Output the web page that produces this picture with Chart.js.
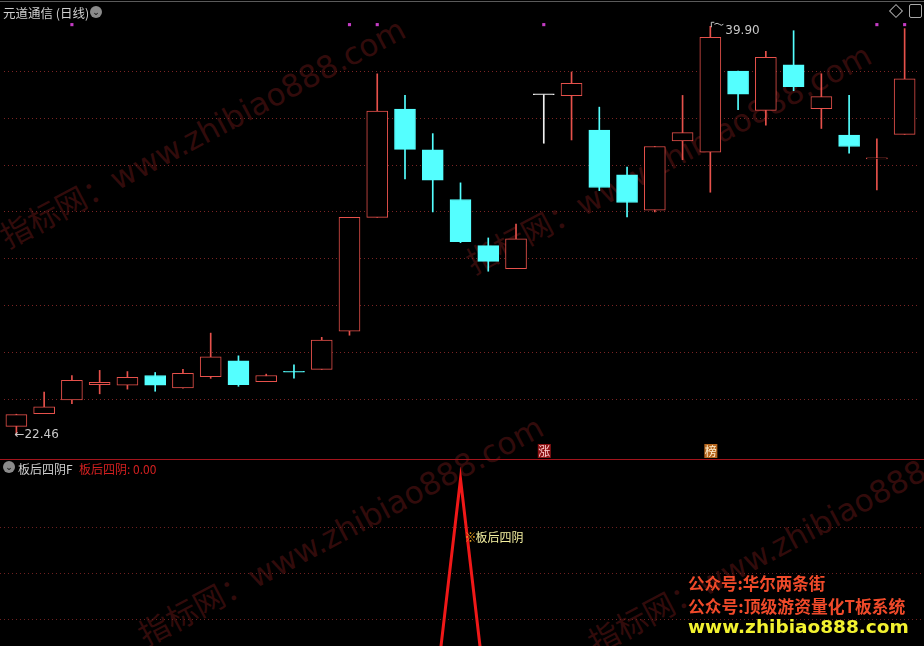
<!DOCTYPE html>
<html>
<head>
<meta charset="utf-8">
<script src="https://cdn.jsdelivr.net/npm/chart.js@4.4.0/dist/chart.umd.min.js"></script>
<style>
  body { margin: 0; background: #000; width: 924px; height: 646px; overflow: hidden; position: relative;
         font-family: "Noto Sans CJK SC", "DejaVu Sans", sans-serif; }
  .abs { position: absolute; white-space: nowrap; }
  #mainBox { position: absolute; left: 0; top: 0; width: 924px; height: 459px; }
  #subBox { position: absolute; left: 0; top: 460px; width: 924px; height: 186px; }
  .wm { position: absolute; white-space: nowrap; color: rgba(85, 20, 20, 0.6); font-size: 31px;
        transform-origin: left bottom; transform: rotate(-28deg); font-family: "DejaVu Sans", "Noto Sans CJK SC", sans-serif; }
  .icon { position: absolute; width: 12px; height: 12px; border-radius: 50%; background: #8a8a8a;
          color: #222; font-size: 9px; line-height: 12px; text-align: center; font-weight: bold; }
</style>
</head>
<body>
<div class="wm" style="left:12px; top:212px;">指标网：www.zhibiao888.com</div>
<div class="wm" style="left:478px; top:238px;">指标网：www.zhibiao888.com</div>
<div class="wm" style="left:150px; top:610px;">指标网：www.zhibiao888.com</div>
<div class="wm" style="left:600px; top:618px;">指标网：www.zhibiao888.com</div>

<div id="mainBox"><canvas id="main" width="924" height="459"></canvas></div>
<div id="subBox"><canvas id="sub" width="924" height="186"></canvas></div>

<div class="abs" style="left:0; top:1px; width:924px; height:1px; background:#5a5a5a;"></div>
<div class="abs" style="left:0; top:459px; width:924px; height:1px; background:#a3141c;"></div>

<div class="abs" style="left:3px; top:3px; font-size:12.5px; color:#cfcfcf;">元道通信 (日线)</div>
<div class="icon" style="left:90px; top:6px;">⌄</div>
<div class="abs" style="left:891px; top:6px; width:8px; height:8px; border:1px solid #aaa; transform:rotate(45deg);"></div>
<div class="abs" style="left:909px; top:4px; width:11px; height:12px; border:1px solid #aaa; border-radius:2px;"></div>

<div class="icon" style="left:3px; top:461px;">⌄</div>
<div class="abs" style="left:18px; top:460px; font-size:12px; color:#cfcfcf;">板后四阴F</div>
<div class="abs" style="left:79px; top:460px; font-size:12px; color:#d42020;">板后四阴: 0.00</div>

<div class="abs" style="left:688px; top:571px; font-size:16.5px; font-weight:bold; color:#f04a2a;">公众号:华尔两条街</div>
<div class="abs" style="left:688px; top:594px; font-size:16.8px; font-weight:bold; color:#f04a2a;">公众号:顶级游资量化T板系统</div>
<div class="abs" style="left:688px; top:616px; font-size:18.5px; font-weight:bold; color:#f2f230; font-family:'DejaVu Sans', sans-serif;">www.zhibiao888.com</div>

<script>
// daily candles, 元道通信
const opens  = [22.83, 23.37, 23.96, 24.61, 24.59, 25.00, 24.47, 24.95, 25.63, 24.74, 25.18,
                25.26, 26.89, 31.75, 36.37, 34.63, 32.51, 30.54, 29.56, 36.98, 36.94, 35.47,
                33.56, 32.05, 35.01, 34.53, 37.99, 36.31, 38.25, 36.38, 35.26, 34.24, 35.29];
const highs  = [23.35, 24.29, 25.00, 25.22, 25.17, 25.13, 25.27, 26.81, 25.84, 25.06, 25.46,
                26.63, 31.75, 37.87, 36.95, 35.32, 33.22, 30.87, 31.46, 36.98, 37.95, 36.45,
                33.89, 34.77, 36.95, 39.90, 37.99, 38.83, 39.71, 37.87, 36.95, 35.10, 39.80];
const lows   = [22.46, 23.37, 23.80, 24.22, 24.42, 24.33, 24.46, 24.88, 24.54, 24.74, 24.89,
                25.26, 26.72, 31.75, 33.39, 31.98, 30.67, 29.45, 29.56, 34.91, 35.05, 32.89,
                31.77, 31.98, 34.21, 32.82, 36.34, 35.68, 37.15, 35.54, 34.49, 32.92, 35.29];
const closes = [23.33, 23.66, 24.80, 24.71, 24.92, 24.59, 25.09, 25.80, 24.61, 25.00, 25.14,
                26.51, 31.75, 36.28, 34.65, 33.33, 30.71, 29.87, 30.83, 36.98, 37.47, 33.02,
                32.38, 34.77, 35.36, 39.43, 37.00, 38.58, 37.32, 36.90, 34.77, 34.28, 37.66];

// purple signal dots along the top
const dotDays = [2, 12, 13, 19, 31, 32];
const dotLevel = 39.97;

// 板后四阴F indicator
const signal = [0, 0, 0, 0, 0, 0, 0, 0, 0, 0, 0, 0, 0, 0, 0, 0, 1, 0, 0, 0, 0, 0, 0, 0, 0, 0, 0, 0, 0, 0, 0, 0, 0];

// price grid lines and day tags
const priceGrid = [24, 26, 28, 30, 32, 34, 36, 38];
const subGrid = [0.8, 0.608, 0.417];
const tags = [{ day: 19, text: '涨', bg: '#8c1214', fg: '#ffd0d0' },
              { day: 25, text: '榜', bg: '#b5661e', fg: '#fff0d0' }];

const RED = '#e6514b', CYAN = '#54ffff', WHITE = '#f0f0f0';
const colorOf = i => closes[i] > opens[i] ? RED : closes[i] < opens[i] ? CYAN : WHITE;

const xMin = -12.5 / 28, xMax = xMin + 924 / 28;

const dotGrid = (ctx, area, ys, color) => {
  ctx.save();
  ctx.strokeStyle = color;
  ctx.lineWidth = 1;
  ctx.setLineDash([1, 3]);
  ys.forEach(y => {
    const py = Math.round(y) + 0.5;
    ctx.beginPath();
    ctx.moveTo(area.left, py);
    ctx.lineTo(area.right, py);
    ctx.stroke();
  });
  ctx.restore();
};

const mainDeco = {
  id: 'mainDeco',
  beforeDatasetsDraw(chart) {
    const y = chart.scales.y;
    dotGrid(chart.ctx, chart.chartArea, priceGrid.map(p => y.getPixelForValue(p)), '#7a2424');
  },
  afterDatasetsDraw(chart) {
    const { ctx, scales: { x, y } } = chart;
    ctx.save();
    ctx.font = '12px "DejaVu Sans", sans-serif';
    ctx.fillStyle = '#c8c8c8';
    ctx.strokeStyle = '#c8c8c8';
    ctx.textBaseline = 'middle';

    // lowest low
    const lo = lows.indexOf(Math.min(...lows));
    const lx = x.getPixelForValue(lo), ly = y.getPixelForValue(lows[lo]);
    ctx.fillText('←' + lows[lo].toFixed(2), lx - 2, ly);

    // highest high
    const hi = highs.indexOf(Math.max(...highs));
    const hx = x.getPixelForValue(hi), hy = y.getPixelForValue(highs[hi]);
    ctx.beginPath();
    ctx.moveTo(hx + 1, hy - 4); ctx.lineTo(hx + 1, hy + 1);
    ctx.moveTo(hx + 1, hy - 4); ctx.lineTo(hx + 4, hy - 4);
    ctx.moveTo(hx + 4, hy - 2); ctx.quadraticCurveTo(hx + 7, hy - 4, hx + 9, hy - 2);
    ctx.quadraticCurveTo(hx + 11, hy, hx + 13, hy - 2);
    ctx.stroke();
    ctx.fillText(highs[hi].toFixed(2), hx + 15, hy + 5);

    // tags at the bottom
    ctx.font = '12px "Noto Sans CJK SC", sans-serif';
    ctx.textAlign = 'center';
    tags.forEach(t => {
      const tx = x.getPixelForValue(t.day);
      ctx.fillStyle = t.bg;
      ctx.fillRect(tx - 6, 444, 13, 14);
      ctx.fillStyle = t.fg;
      ctx.fillText(t.text, tx + 0.5, 451);
    });
    ctx.restore();
  }
};

new Chart(document.getElementById('main'), {
  type: 'bar',
  data: {
    datasets: [
      {
        label: 'body',
        data: opens.map((o, i) => ({ x: i, y: [o, closes[i]] })),
        backgroundColor: opens.map((o, i) => colorOf(i) === RED ? '#000' : colorOf(i)),
        borderColor: opens.map((o, i) => colorOf(i)),
        borderWidth: 1,
        borderSkipped: false,
        barThickness: 21,
        minBarLength: 1,
        grouped: false,
        order: 0
      },
      {
        label: 'wick',
        data: lows.map((l, i) => ({ x: i, y: [l, highs[i]] })),
        backgroundColor: lows.map((l, i) => colorOf(i)),
        barThickness: 1,
        grouped: false,
        order: 1
      },
      {
        type: 'scatter',
        label: 'dots',
        data: dotDays.map(d => ({ x: d, y: dotLevel })),
        pointStyle: 'rect',
        pointRadius: 2.2,
        backgroundColor: '#c43cc4',
        borderWidth: 0,
        order: 0
      }
    ]
  },
  options: {
    responsive: false,
    animation: false,
    layout: { padding: 0 },
    plugins: { legend: { display: false }, tooltip: { enabled: false } },
    scales: {
      x: { type: 'linear', min: xMin, max: xMax, offset: false, bounds: 'ticks', display: false },
      y: { min: 21.61, max: 40.85, display: false }
    }
  },
  plugins: [mainDeco]
});

const subDeco = {
  id: 'subDeco',
  beforeDatasetsDraw(chart) {
    const y = chart.scales.y;
    dotGrid(chart.ctx, chart.chartArea, subGrid.map(v => y.getPixelForValue(v)), '#6e2020');
  },
  afterDatasetsDraw(chart) {
    const { ctx, scales: { x, y } } = chart;
    const d = signal.indexOf(1);
    const tx = x.getPixelForValue(d) + 4, ty = y.getPixelForValue(0.757);
    ctx.save();
    ctx.textBaseline = 'middle';
    ctx.font = '12px "Noto Sans CJK SC", sans-serif';
    ctx.fillStyle = '#e8a020';
    ctx.fillText('※', tx, ty);
    ctx.fillStyle = '#f4f0a0';
    ctx.fillText('板后四阴', tx + 11, ty);
    ctx.restore();
  }
};

new Chart(document.getElementById('sub'), {
  type: 'line',
  data: {
    datasets: [{
      data: signal.map((v, i) => ({ x: i, y: v })),
      borderColor: '#f01818',
      borderWidth: 3,
      pointRadius: 0,
      tension: 0
    }]
  },
  options: {
    responsive: false,
    animation: false,
    layout: { padding: 0 },
    plugins: { legend: { display: false }, tooltip: { enabled: false } },
    scales: {
      x: { type: 'linear', min: xMin, max: xMax, display: false },
      y: { min: 0.3042, max: 1.0792, display: false }
    }
  },
  plugins: [subDeco]
});
</script>
</body>
</html>
